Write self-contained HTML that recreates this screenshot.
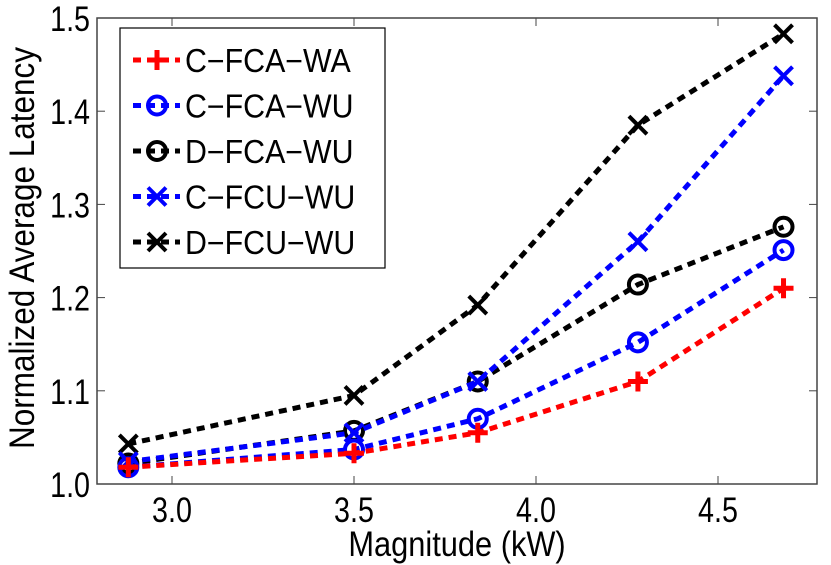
<!DOCTYPE html>
<html><head><meta charset="utf-8"><style>
body{margin:0;background:#fff;}
svg{display:block;font-family:"Liberation Sans",sans-serif;}
</style></head><body>
<svg id="chart" width="831" height="565"></svg>
<script>
const xValues=[2.88,3.50,3.84,4.28,4.68];
const seriesNames=["C\u2212FCA\u2212WA","C\u2212FCA\u2212WU","D\u2212FCA\u2212WU","C\u2212FCU\u2212WU","D\u2212FCU\u2212WU"];
const sCFCAWA=[1.018,1.033,1.055,1.11,1.21];
const sCFCAWU=[1.018,1.037,1.07,1.152,1.251];
const sDFCAWU=[1.022,1.057,1.11,1.214,1.276];
const sCFCUWU=[1.024,1.055,1.11,1.26,1.438];
const sDFCUWU=[1.043,1.095,1.192,1.385,1.483];
const xTicks=[3.0,3.5,4.0,4.5];
const xTickLabels=["3.0","3.5","4.0","4.5"];
const yTicks=[1.0,1.1,1.2,1.3,1.4,1.5];
const yTickLabels=["1.0","1.1","1.2","1.3","1.4","1.5"];

const L=97,R=817,T=18,B=484;
const sx=v=>172+(v-3.0)*364;
const sy=v=>B-(v-1.0)*932;
const svg=document.getElementById('chart');
const NS="http://www.w3.org/2000/svg";
function mk(tag,attrs,parent){const e=document.createElementNS(NS,tag);for(const k in attrs)e.setAttribute(k,attrs[k]);(parent||svg).appendChild(e);return e;}

const frame=mk('rect',{x:L,y:T,width:R-L,height:B-T,fill:'none',stroke:'#444','stroke-width':1.5});



xTicks.forEach((t,i)=>{
  const x=sx(t);
  mk('line',{x1:x,y1:B,x2:x,y2:B-8,stroke:'#444'});
  mk('line',{x1:x,y1:T,x2:x,y2:T+8,stroke:'#444'});
  const tx=mk('text',{'font-size':35,'text-anchor':'middle',fill:'#000',transform:`translate(${x},${B+38}) scale(0.82,1)`});
  tx.textContent=xTickLabels[i];
  
  
});
yTicks.forEach((t,i)=>{
  const y=sy(t);
  mk('line',{x1:L,y1:y,x2:L+8,y2:y,stroke:'#444'});
  mk('line',{x1:R,y1:y,x2:R-8,y2:y,stroke:'#444'});
  const tx=mk('text',{'font-size':35,'text-anchor':'end',fill:'#000',transform:`translate(${L-7},${y+13}) scale(0.82,1)`});
  tx.textContent=yTickLabels[i];
  
  
});
const xt=mk('text',{'font-size':35,'text-anchor':'middle',transform:'translate(457,556) scale(0.88,1)'});
xt.textContent="Magnitude (kW)";


const yt=mk('text',{'font-size':35,'text-anchor':'middle',transform:'translate(34,248) rotate(-90) scale(0.9,1)'});
yt.textContent="Normalized Average Latency";



function marker(g,type,x,y,c){
  if(type==='+'){mk('path',{d:`M${x-10},${y}H${x+10}M${x},${y-10}V${y+10}`,stroke:c,'stroke-width':5,fill:'none'},g);}
  else if(type==='o'){mk('circle',{cx:x,cy:y,r:9,stroke:c,'stroke-width':4,fill:'none'},g);}
  else {mk('path',{d:`M${x-9},${y-9}L${x+9},${y+9}M${x-9},${y+9}L${x+9},${y-9}`,stroke:c,'stroke-width':4,fill:'none'},g);}
}
const allSeries=[sCFCAWA,sCFCAWU,sDFCAWU,sCFCUWU,sDFCUWU];
const colors=['#ff0000','#0000ff','#000000','#0000ff','#000000'];
const markers=['+','o','o','x','x'];
const order=[4,2,3,1,0];
order.forEach(si=>{
  const g=mk('g',{});
  
  
  const pts=allSeries[si].map((v,i)=>sx(xValues[i])+','+sy(v)).join(' ');
  mk('polyline',{points:pts,fill:'none',stroke:colors[si],'stroke-width':5,'stroke-dasharray':'8,6'},g);
  allSeries[si].forEach((v,i)=>marker(g,markers[si],sx(xValues[i]),sy(v),colors[si]));
});

const lg=mk('g',{});


mk('rect',{x:120,y:28,width:265,height:240,fill:'#fff',stroke:'#000','stroke-width':1.2},lg);
seriesNames.forEach((n,i)=>{
  const y=60+i*45.5;
  const eg=mk('g',{},lg);
  
  
  mk('line',{x1:133,y1:y,x2:180,y2:y,stroke:colors[i],'stroke-width':5,'stroke-dasharray':'8,6'},eg);
  marker(eg,markers[i],157,y,colors[i]);
  const t=mk('text',{'font-size':33,transform:`translate(185,${y+12}) scale(0.92,1)`},eg);
  t.textContent=n;
});
</script>
</body></html>
